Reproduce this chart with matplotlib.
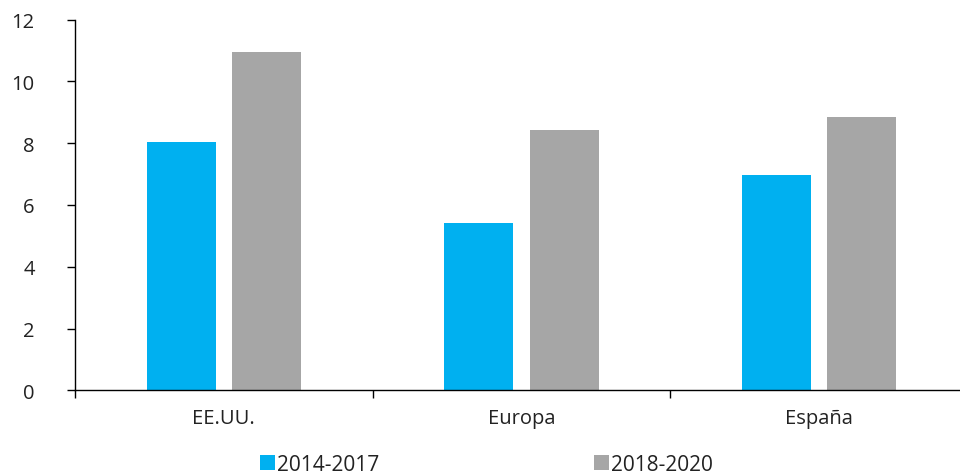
import matplotlib.pyplot as plt
import numpy as np

# Datos
regiones = ['EE.UU.', 'Europa', 'España']
periodo_1 = [8.05, 5.42, 6.97]
periodo_2 = [10.95, 8.43, 8.85]
etiquetas = ['2014-2017', '2018-2020']
colores = ['#00B0F0', '#A6A6A6']

plt.rcParams['font.family'] = ['Open Sans', 'DejaVu Sans']
plt.rcParams['text.color'] = '#222222'

fig = plt.figure(figsize=(9.6, 4.77), dpi=100)
ax = fig.add_axes([75 / 960, 85.7 / 477, 893 / 960, 370.6 / 477])

x = np.arange(len(regiones))
ancho = 0.232
ax.bar(x - 0.143, periodo_1, width=ancho, color=colores[0], label=etiquetas[0])
ax.bar(x + 0.143, periodo_2, width=ancho, color=colores[1], label=etiquetas[1])

ax.set_xlim(-0.5, 2.5)
ax.set_ylim(0, 12)
ax.set_yticks(range(0, 13, 2))

# Etiquetas centradas, marcas entre categorias
ax.set_xticks(x)
ax.set_xticklabels(regiones)
ax.set_xticks([-0.5, 0.5, 1.5, 2.5], minor=True)
ax.tick_params(axis='x', which='major', length=0, pad=13, labelsize=14.5, labelcolor='#222222')
ax.tick_params(axis='x', which='minor', length=6, width=1, direction='out')
ax.tick_params(axis='y', length=6, width=1, pad=23, labelsize=14.5, labelcolor='#222222')

for lado in ['top', 'right']:
    ax.spines[lado].set_visible(False)
for lado in ['left', 'bottom']:
    ax.spines[lado].set_linewidth(1)
    ax.spines[lado].set_color('black')

fig.legend(loc='lower center', bbox_to_anchor=(0.507, 0.002), ncol=2, frameon=False,
           fontsize=15, handlelength=0.7, handleheight=0.7, handletextpad=0.12,
           columnspacing=10.3, borderaxespad=0, borderpad=0)

plt.savefig('out.png', dpi=100)
